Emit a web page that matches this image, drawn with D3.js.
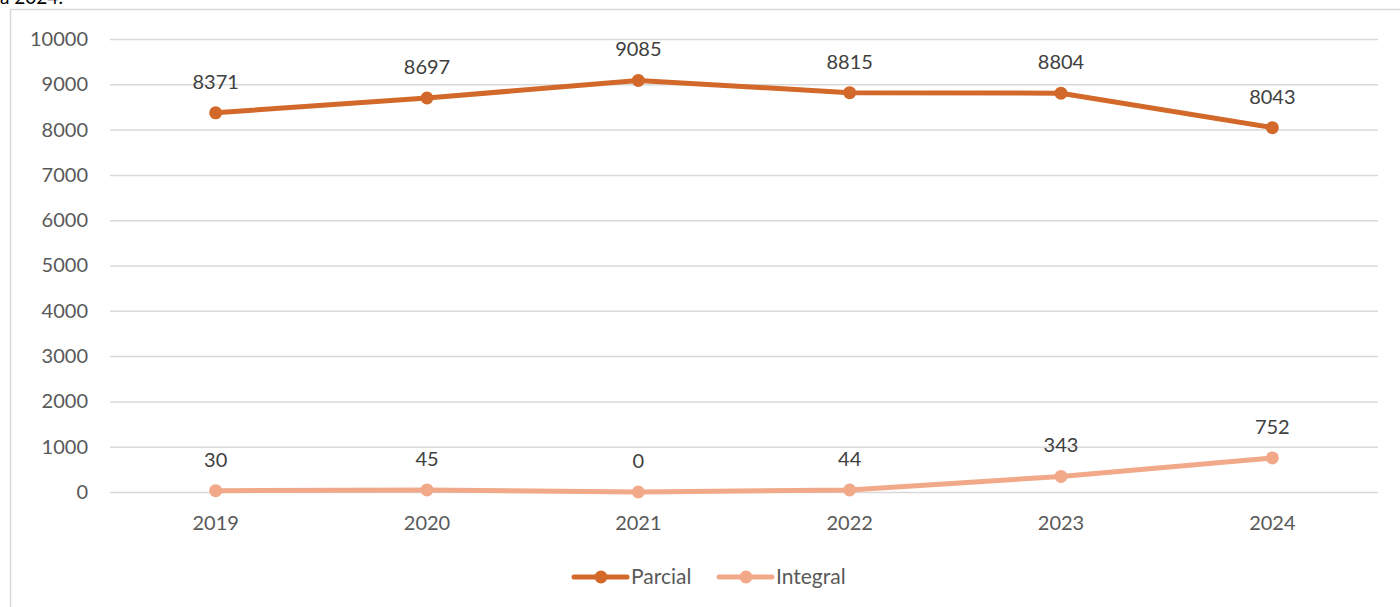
<!DOCTYPE html>
<html>
<head>
<meta charset="utf-8">
<script src="https://cdn.jsdelivr.net/npm/d3@7"></script>
<style>
  body { margin: 0; background: #fff; }
  svg text { font-family: Lato, "Open Sans", sans-serif; fill: #595959; }
</style>
</head>
<body>
<svg id="chart" width="1400" height="607"></svg>
<script>
// chart data
var years = ['2019', '2020', '2021', '2022', '2023', '2024'];
var parcial = [8371, 8697, 9085, 8815, 8804, 8043];
var integral = [30, 45, 0, 44, 343, 752];
var yTicks = [0, 1000, 2000, 3000, 4000, 5000, 6000, 7000, 8000, 9000, 10000];

var series = [
  { name: 'Parcial', values: parcial, color: '#D2692A' },
  { name: 'Integral', values: integral, color: '#F2A98A' }
];

var svg = d3.select('#chart');

// caption above the chart, mostly cut off like in the original screenshot
svg.append('text')
    .attr('x', 0)
    .attr('y', 4)
    .style('fill', '#000')
    .style('font-size', '19px')
    .text('a 2024.');

// frame (only top and left edges visible)
svg.append('path')
    .attr('d', 'M10.5,607 V9.5 H1400')
    .attr('fill', 'none')
    .attr('stroke', '#d9d9d9')
    .attr('stroke-width', 1.5);

var x = d3.scaleBand()
    .domain(years)
    .range([110, 1378]);

var y = d3.scaleLinear()
    .domain([0, 10000])
    .range([492, 39]);

// gridlines
svg.append('g')
  .selectAll('line')
    .data(yTicks)
  .enter().append('line')
    .attr('x1', 110)
    .attr('x2', 1378)
    .attr('y1', function(d) { return y(d) + 0.5; })
    .attr('y2', function(d) { return y(d) + 0.5; })
    .attr('stroke', '#d9d9d9')
    .attr('stroke-width', 1.5);

// y axis labels
var yAxis = svg.append('g')
    .attr('transform', 'translate(98,0)')
    .call(d3.axisLeft(y).tickValues(yTicks).tickSize(0).tickPadding(10).tickFormat(d3.format('d')));
yAxis.select('.domain').remove();
yAxis.selectAll('text')
    .style('font-size', '20px')
    .style('font-family', 'Lato, "Open Sans", sans-serif')
    .attr('fill', '#595959');

// x axis labels
var xAxis = svg.append('g')
    .attr('transform', 'translate(0,513)')
    .call(d3.axisBottom(x).tickSize(0).tickPadding(3));
xAxis.select('.domain').remove();
xAxis.selectAll('text')
    .style('font-size', '20px')
    .style('font-family', 'Lato, "Open Sans", sans-serif')
    .attr('fill', '#595959');

var cx = function(d, i) { return x(years[i]) + x.bandwidth() / 2; };

var line = d3.line()
    .x(cx)
    .y(function(d) { return y(d); });

series.forEach(function(s) {
  var g = svg.append('g');

  g.append('path')
      .datum(s.values)
      .attr('d', line)
      .attr('fill', 'none')
      .attr('stroke', s.color)
      .attr('stroke-width', 5)
      .attr('stroke-linecap', 'round')
      .attr('stroke-linejoin', 'round');

  g.selectAll('circle')
      .data(s.values)
    .enter().append('circle')
      .attr('cx', cx)
      .attr('cy', function(d) { return y(d); })
      .attr('r', 6.5)
      .attr('fill', s.color);

  g.selectAll('text')
      .data(s.values)
    .enter().append('text')
      .attr('x', cx)
      .attr('y', function(d) { return y(d) - 24; })
      .attr('text-anchor', 'middle')
      .style('font-size', '20px')
      .style('fill', '#404040')
      .text(function(d) { return d; });
});

// legend
var legend = svg.append('g')
    .selectAll('g')
    .data(series)
  .enter().append('g')
    .attr('transform', function(d, i) { return 'translate(' + (574 + i * 145) + ',577)'; });

legend.append('line')
    .attr('x1', 0)
    .attr('x2', 53)
    .attr('stroke', function(d) { return d.color; })
    .attr('stroke-width', 5)
    .attr('stroke-linecap', 'round');

legend.append('circle')
    .attr('cx', 27)
    .attr('r', 6.5)
    .attr('fill', function(d) { return d.color; });

legend.append('text')
    .attr('x', 57)
    .attr('y', 7)
    .style('font-size', '21px')
    .text(function(d) { return d.name; });
</script>
</body>
</html>
